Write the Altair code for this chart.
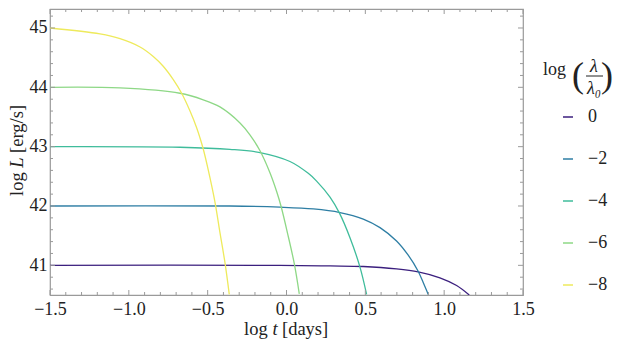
import altair as alt
import pandas as pd

# ---- data ----
series_labels = ["0", "\u22122", "\u22124", "\u22126", "\u22128"]
series_colors = ["#3b1f7e", "#2e7ea4", "#3fbc9b", "#8ed886", "#eeea5c"]

x_0 = [-1.5, -0.042, 0.276, 0.487, 0.698, 0.835, 0.973, 1.079, 1.159]
y_0 = [41.0, 41.0, 40.99, 40.98, 40.94, 40.89, 40.79, 40.66, 40.50]

x_2 = [-1.5, -0.359, -0.042, 0.170, 0.339, 0.487, 0.593, 0.698, 0.772, 0.835, 0.867, 0.899]
y_2 = [42.0, 42.0, 41.98, 41.95, 41.89, 41.78, 41.635, 41.41, 41.17, 40.90, 40.71, 40.51]

x_4 = [-1.5, -0.676, -0.359, -0.168, 0.022, 0.138, 0.191, 0.276, 0.336, 0.402, 0.466, 0.508]
y_4 = [43.0, 42.99, 42.955, 42.90, 42.75, 42.55, 42.42, 42.15, 41.88, 41.47, 40.97, 40.51]

x_6 = [-1.5, -1.056, -0.676, -0.528, -0.422, -0.295, -0.232, -0.168, -0.105, -0.062, -0.035, 0.011, 0.050, 0.081]
y_6 = [44.0, 43.99, 43.90, 43.79, 43.67, 43.40, 43.20, 42.93, 42.56, 42.24, 42.00, 41.49, 41.02, 40.52]

x_8 = [-1.5, -1.183, -1.056, -0.929, -0.845, -0.782, -0.718, -0.665, -0.612, -0.570, -0.549, -0.528, -0.500, -0.454, -0.422, -0.390, -0.363]
y_8 = [45.0, 44.90, 44.82, 44.68, 44.52, 44.355, 44.13, 43.90, 43.60, 43.32, 43.15, 42.96, 42.65, 42.07, 41.55, 41.04, 40.51]

x_major = [-1.5, -1.0, -0.5, 0.0, 0.5, 1.0, 1.5]
x_minor = [round(-1.5 + 0.1 * i, 1) for i in range(31)]
y_major = [41, 42, 43, 44, 45]
y_minor = [round(40.6 + 0.2 * i, 1) for i in range(24)]

X_DOMAIN = [-1.5, 1.5]
Y_DOMAIN = [40.5, 45.32]

W, H = 473, 286
FONT = "Liberation Serif"
FRAME = "#9a9a9a"
INK = "#222222"
TFS = 18.5

rows = []
for lab, xs_, ys_ in zip(series_labels, [x_0, x_2, x_4, x_6, x_8], [y_0, y_2, y_4, y_6, y_8]):
    for i, (a, b) in enumerate(zip(xs_, ys_)):
        rows.append({"series": lab, "logt": a, "logL": b, "order": i})
df = pd.DataFrame(rows)

xs = alt.Scale(domain=X_DOMAIN, nice=False, zero=False)
ys = alt.Scale(domain=Y_DOMAIN, nice=False, zero=False)

xaxis = alt.Axis(values=x_major, format=".1f", title=None, grid=False,
                 domain=False, ticks=False, tickSize=0, labelPadding=5, labelFlush=False,
                 labelFont=FONT, labelFontSize=18, labelColor=INK)
yaxis = alt.Axis(values=y_major, format="d", title=None, grid=False,
                 domain=False, ticks=False, tickSize=0, labelPadding=3, labelFlush=False,
                 labelFont=FONT, labelFontSize=18, labelColor=INK)

lines = alt.Chart(df).mark_line(strokeWidth=1.3, clip=True, interpolate="catmull-rom").encode(
    x=alt.X("logt:Q", scale=xs, axis=xaxis),
    y=alt.Y("logL:Q", scale=ys, axis=yaxis),
    color=alt.Color("series:N", sort=series_labels,
                    scale=alt.Scale(domain=series_labels, range=series_colors),
                    legend=alt.Legend(title=None, orient="none", legendX=509, legendY=99,
                                      symbolType="stroke", symbolSize=100, symbolStrokeWidth=1.5,
                                      labelFont=FONT, labelFontSize=18, labelColor=INK,
                                      labelOffset=11, rowPadding=24, padding=0)),
    detail="series:N",
    order="order:Q",
)

xt = pd.DataFrame({"v": x_minor})
xt["len"] = [5 if v in x_major else 3 for v in x_minor]
yt = pd.DataFrame({"v": y_minor + [float(v) for v in y_major]})
yt["len"] = [3] * len(y_minor) + [5] * len(y_major)
yt = yt.drop_duplicates("v", keep="last")

def xticks(d, L):
    b = alt.Chart(d).mark_rule(color=FRAME, strokeWidth=1)
    top = b.encode(x=alt.X("v:Q", scale=xs, axis=xaxis), y=alt.value(0), y2=alt.value(L))
    bot = b.encode(x=alt.X("v:Q", scale=xs, axis=xaxis), y=alt.value(H), y2=alt.value(H - L))
    return [top, bot]

def yticks(d, L):
    b = alt.Chart(d).mark_rule(color=FRAME, strokeWidth=1)
    left = b.encode(y=alt.Y("v:Q", scale=ys, axis=yaxis), x=alt.value(0), x2=alt.value(L))
    right = b.encode(y=alt.Y("v:Q", scale=ys, axis=yaxis), x=alt.value(W), x2=alt.value(W - L))
    return [left, right]

tick_layers = (xticks(xt[xt.len == 5], 5) + xticks(xt[xt.len == 3], 3)
               + yticks(yt[yt.len == 5], 5) + yticks(yt[yt.len == 3], 3))

tdf = pd.DataFrame({"t": [0]})
tbase = alt.Chart(tdf)

def txt(s, x, y, size=TFS, italic=False, align="left", baseline="alphabetic", angle=0):
    kw = dict(text=s, font=FONT, fontSize=size, align=align, baseline=baseline, color=INK)
    if italic:
        kw["fontStyle"] = "italic"
    if angle:
        kw["angle"] = angle
    return tbase.mark_text(**kw).encode(x=alt.value(x), y=alt.value(y))

# x-axis title: log t [days]
xt_base = 326
x_title = [
    txt("log", 194, xt_base),
    txt("t", 222.5, xt_base, italic=True),
    txt("[days]", 232, xt_base),
]
# y-axis title: log L [erg/s]  (rotated)
yx = -27
y_title = [
    txt("log", yx, 187, angle=270),
    txt("L", yx, 158.8, italic=True, angle=270),
    txt("[erg/s]", yx, 143.9, angle=270),
]

# legend title: log (lambda / lambda_0)
leg = [
    txt("log", 493, 66, size=18),
    txt("(", 528, 67, size=36, align="center", baseline="middle"),
    txt(")", 557, 67, size=36, align="center", baseline="middle"),
    txt("\u03bb", 544, 63, size=18, italic=True, align="center"),
    txt("\u03bb\u2080", 544, 85, size=18, italic=True, align="center"),
    tbase.mark_rule(color=INK, strokeWidth=1).encode(x=alt.value(536), x2=alt.value(553), y=alt.value(67)),
]

chart = alt.layer(
    lines, *tick_layers, *x_title, *y_title, *leg,
).properties(
    width=W, height=H,
    autosize=alt.AutoSizeParams(type="none"),
    padding={"left": 42, "top": 1, "right": 92, "bottom": 44},
    background="white",
).configure_view(stroke=FRAME, strokeWidth=1.2)

chart.save("out.html", embed_options={"renderer": "svg", "actions": False})
